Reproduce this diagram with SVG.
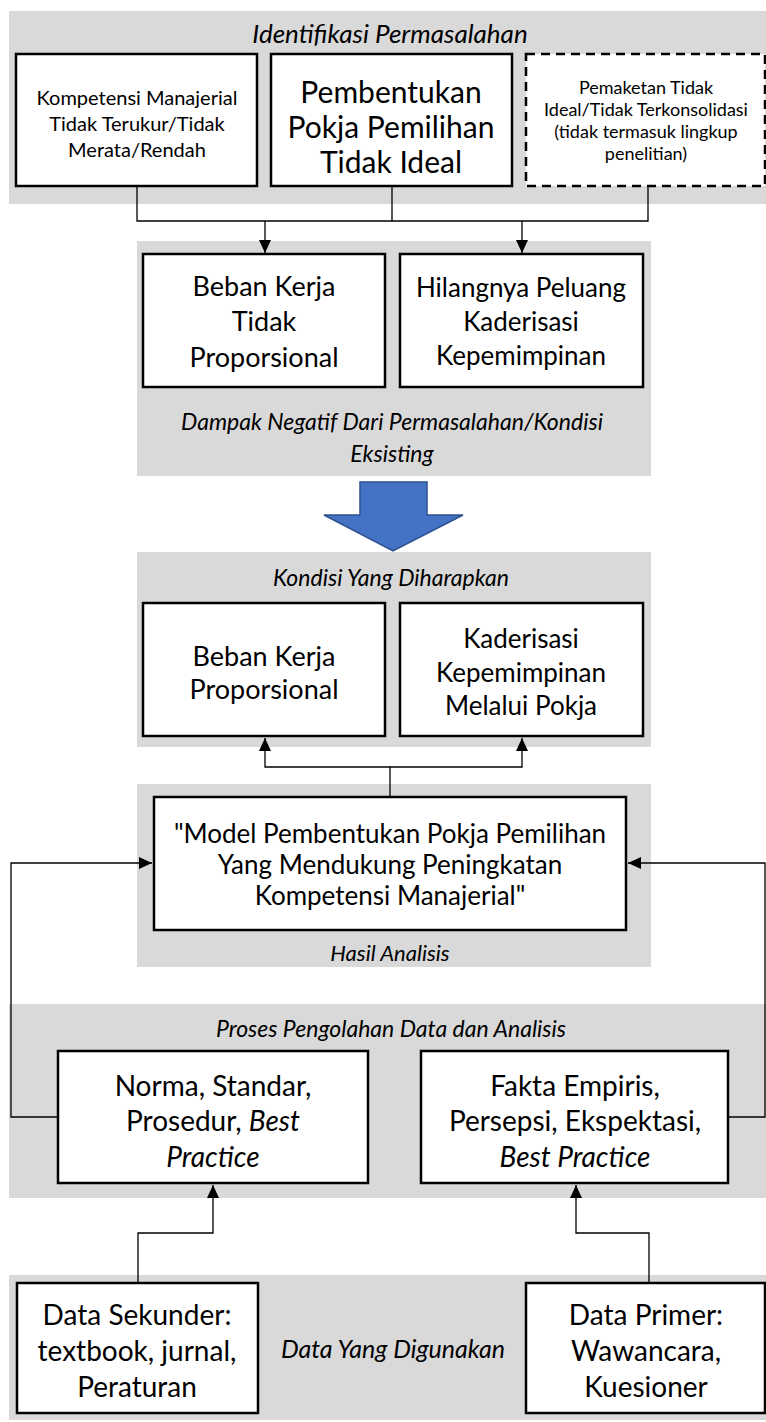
<svg xmlns="http://www.w3.org/2000/svg" width="766" height="1422" viewBox="0 0 766 1422">
<style>
.bg{fill:#ffffff}
.panel{fill:#d9d9d9}
.box{fill:#ffffff;stroke:#000;stroke-width:2.5}
.dash{fill:#ffffff;stroke:#000;stroke-width:2.5;stroke-dasharray:9,6}
.t{font-family:Lato,"Open Sans",sans-serif;fill:#000;text-anchor:middle;dominant-baseline:central}
.i{font-style:italic}
.c{fill:none;stroke:#000;stroke-width:1.3}
</style>
<defs>
<marker id="ah" markerUnits="userSpaceOnUse" markerWidth="14" markerHeight="12" refX="13" refY="6" orient="auto">
<path d="M0,0 L13,6 L0,12 z" fill="#000"/>
</marker>
</defs>
<rect class="bg" x="0" y="0" width="766" height="1422"/>

<g id="panel-identifikasi">
<rect class="panel" x="9" y="11" width="757" height="193"/>
<text class="t i" x="390" y="33" font-size="26">Identifikasi Permasalahan</text>
</g>
<g id="node-kompetensi">
<rect class="box" x="16" y="54" width="241" height="132"/>
<text class="t" x="137" y="97" font-size="20">Kompetensi Manajerial</text>
<text class="t" x="137" y="123" font-size="20">Tidak Terukur/Tidak</text>
<text class="t" x="137" y="149" font-size="20">Merata/Rendah</text>
</g>
<g id="node-pembentukan">
<rect class="box" x="271" y="54" width="241" height="132"/>
<text class="t" x="391" y="91" font-size="30">Pembentukan</text>
<text class="t" x="391" y="126" font-size="30">Pokja Pemilihan</text>
<text class="t" x="391" y="161" font-size="30">Tidak Ideal</text>
</g>
<g id="node-pemaketan">
<rect class="dash" x="526" y="54" width="239" height="132"/>
<text class="t" x="646" y="87" font-size="18">Pemaketan Tidak</text>
<text class="t" x="646" y="109" font-size="18">Ideal/Tidak Terkonsolidasi</text>
<text class="t" x="646" y="131" font-size="18">(tidak termasuk lingkup</text>
<text class="t" x="646" y="153" font-size="18">penelitian)</text>
</g>

<g id="panel-dampak">
<rect class="panel" x="137" y="241" width="514" height="235"/>
<text class="t i" x="392" y="421" font-size="23">Dampak Negatif Dari Permasalahan/Kondisi</text>
<text class="t i" x="392" y="453" font-size="23">Eksisting</text>
</g>
<g id="node-beban-tidak">
<rect class="box" x="143" y="254" width="242" height="133"/>
<text class="t" x="264" y="285" font-size="27">Beban Kerja</text>
<text class="t" x="264" y="320" font-size="27">Tidak</text>
<text class="t" x="264" y="356" font-size="27">Proporsional</text>
</g>
<g id="node-hilangnya">
<rect class="box" x="400" y="254" width="243" height="133"/>
<text class="t" x="521" y="287" font-size="26">Hilangnya Peluang</text>
<text class="t" x="521" y="321" font-size="26">Kaderisasi</text>
<text class="t" x="521" y="355" font-size="26">Kepemimpinan</text>
</g>

<g id="big-arrow">
<polygon points="360,482 427,482 427,515 463,515 393,551 324,515 360,515" fill="#4472c4" stroke="#2f528f" stroke-width="1.5"/>
</g>

<g id="panel-kondisi">
<rect class="panel" x="137" y="552" width="514" height="195"/>
<text class="t i" x="391" y="577" font-size="23">Kondisi Yang Diharapkan</text>
</g>
<g id="node-beban-prop">
<rect class="box" x="143" y="603" width="242" height="133"/>
<text class="t" x="264" y="655" font-size="27">Beban Kerja</text>
<text class="t" x="264" y="688" font-size="27">Proporsional</text>
</g>
<g id="node-kaderisasi">
<rect class="box" x="400" y="603" width="243" height="133"/>
<text class="t" x="521" y="638" font-size="26">Kaderisasi</text>
<text class="t" x="521" y="672" font-size="26">Kepemimpinan</text>
<text class="t" x="521" y="705" font-size="26">Melalui Pokja</text>
</g>

<g id="panel-hasil">
<rect class="panel" x="137" y="784" width="514" height="183"/>
<text class="t i" x="390" y="952" font-size="22">Hasil Analisis</text>
</g>
<g id="node-model">
<rect class="box" x="154" y="797" width="472" height="133"/>
<text class="t" x="390" y="833" font-size="26">"Model Pembentukan Pokja Pemilihan</text>
<text class="t" x="390" y="864" font-size="26">Yang Mendukung Peningkatan</text>
<text class="t" x="390" y="895" font-size="26">Kompetensi Manajerial"</text>
</g>

<g id="panel-proses">
<rect class="panel" x="9" y="1004" width="757" height="194"/>
<text class="t i" x="391" y="1028" font-size="23">Proses Pengolahan Data dan Analisis</text>
</g>
<g id="node-norma">
<rect class="box" x="58" y="1051" width="310" height="132"/>
<text class="t" x="213" y="1085" font-size="28">Norma, Standar,</text>
<text class="t" x="213" y="1120" font-size="28">Prosedur, <tspan class="i">Best</tspan></text>
<text class="t i" x="213" y="1156" font-size="28">Practice</text>
</g>
<g id="node-fakta">
<rect class="box" x="421" y="1051" width="307" height="132"/>
<text class="t" x="575" y="1085" font-size="28">Fakta Empiris,</text>
<text class="t" x="575" y="1120" font-size="28">Persepsi, Ekspektasi,</text>
<text class="t i" x="575" y="1156" font-size="28">Best Practice</text>
</g>

<g id="panel-data">
<rect class="panel" x="9" y="1275" width="757" height="145"/>
<text class="t i" x="393" y="1348" font-size="25">Data Yang Digunakan</text>
</g>
<g id="node-sekunder">
<rect class="box" x="17" y="1283" width="241" height="130"/>
<text class="t" x="137" y="1314" font-size="28">Data Sekunder:</text>
<text class="t" x="137" y="1350" font-size="28">textbook, jurnal,</text>
<text class="t" x="137" y="1386" font-size="28">Peraturan</text>
</g>
<g id="node-primer">
<rect class="box" x="526" y="1283" width="239" height="130"/>
<text class="t" x="646" y="1314" font-size="28">Data Primer:</text>
<text class="t" x="646" y="1350" font-size="28">Wawancara,</text>
<text class="t" x="646" y="1386" font-size="28">Kuesioner</text>
</g>

<g id="connectors">
<path class="c" d="M137,186 V221 H648 V186 M392,186 V221"/>
<path class="c" d="M265,221 V253" marker-end="url(#ah)"/>
<path class="c" d="M522,221 V253" marker-end="url(#ah)"/>
<path class="c" d="M390,797 V767 H265 V738" marker-end="url(#ah)"/>
<path class="c" d="M390,767 H522 V738" marker-end="url(#ah)"/>
<path class="c" d="M58,1117 H11 V863 H152" marker-end="url(#ah)"/>
<path class="c" d="M728,1117 H765 V863 H628" marker-end="url(#ah)"/>
<path class="c" d="M138,1283 V1233 H213 V1185" marker-end="url(#ah)"/>
<path class="c" d="M649,1283 V1233 H576 V1185" marker-end="url(#ah)"/>
</g>
</svg>
